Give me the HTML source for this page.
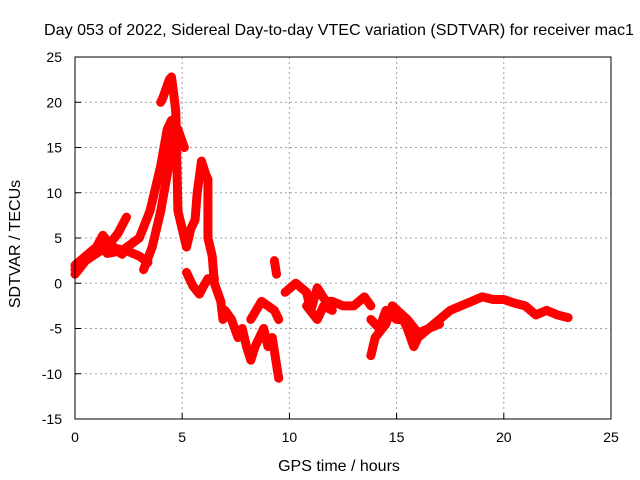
<!DOCTYPE html>
<html><head><meta charset="utf-8"><style>
body{margin:0;background:#fff;}
svg{display:block;font-family:"Liberation Sans",sans-serif;}
</style></head><body>
<svg id="chart" width="640" height="480" viewBox="0 0 640 480">
<rect width="640" height="480" fill="#fff"/>
<text x="339" y="35" font-size="16" text-anchor="middle" textLength="590" lengthAdjust="spacingAndGlyphs">Day 053 of 2022, Sidereal Day-to-day VTEC variation (SDTVAR) for receiver mac1</text>
<text x="339" y="471" font-size="16" text-anchor="middle">GPS time / hours</text>
<text transform="translate(20,244) rotate(-90)" font-size="16" text-anchor="middle">SDTVAR / TECUs</text>
<g id="grid"></g><g id="marks"></g><g id="axes"></g>
</svg>
<script>
const xTicks=[0,5,10,15,20,25];
const yTicks=[-15,-10,-5,0,5,10,15,20,25];
const s1x=[0,0.5,1,1.5,2,2.4];
const s1y=[1,2.5,3.3,4,5.5,7.3];
const s2x=[0,0.5,1,1.5,2,2.5,3,3.4];
const s2y=[1.5,2.8,3.6,4.2,3.8,3.5,3,2.3];
const s3x=[0,0.5,1,1.3,1.7,2.2];
const s3y=[2,3,4,5.3,4,3.2];
const s4x=[1.5,2.2,3,3.5,4,4.3,4.5,4.8,5.1];
const s4y=[3.3,3.6,5,8,13,17,18,17,15];
const s5x=[3.2,3.6,4,4.3,4.6,4.7];
const s5y=[1.5,4,8,12,16,18];
const s6x=[4,4.1,4.4,4.5,4.6,4.7,4.8,5,5.2,5.4,5.6,5.7,5.9,6.1,6.2,6.2,6.4,6.5,6.8,6.9];
const s6y=[20,20.5,22.5,22.8,21,19,8,6,4,6,7,10,13.5,12,11.5,5,3,0,-2,-4];
const s7x=[5.2,5.5,5.8,6,6.2,6.5];
const s7y=[1.2,-0.3,-1.2,-0.3,0.5,0.5];
const s8x=[7,7.3,7.6,7.8,8,8.2,8.4,8.6,8.8,9,9.2,9.5];
const s8y=[-3,-4,-6,-5,-7,-8.5,-7,-6,-5,-7,-6,-10.5];
const s9x=[8.2,8.7,9.3,9.5];
const s9y=[-4,-2,-3,-4];
const s10x=[9.3,9.4];
const s10y=[2.5,1];
const s11x=[9.8,10.3,10.8,11,11.3,11.7,12,12.5,13,13.5,13.8];
const s11y=[-1,0,-1,-3,-0.5,-2,-2,-2.5,-2.5,-1.5,-2.5];
const s12x=[10.8,11.3,11.6,12];
const s12y=[-2.5,-4,-2.5,-3];
const s13x=[13.8,14.2,14.5,15,15.3,15.5,15.8,16,16.5,17,17.5,18,18.5,19,19.5,20,20.5,21,21.5,22,22.5,23];
const s13y=[-4,-5,-3,-4,-4,-5,-7,-6,-5,-4,-3,-2.5,-2,-1.5,-1.8,-1.8,-2.2,-2.5,-3.5,-3,-3.5,-3.8];
const s14x=[13.8,14,14.5,14.8,15.5,16,16.5,17];
const s14y=[-8,-6,-4.5,-2.5,-4,-5.5,-5,-4.5];
const series=[[s1x,s1y],[s2x,s2y],[s3x,s3y],[s4x,s4y],[s5x,s5y],[s6x,s6y],[s7x,s7y],[s8x,s8y],[s9x,s9y],[s10x,s10y],[s11x,s11y],[s12x,s12y],[s13x,s13y],[s14x,s14y]];
const X0=75,X1=611,Y0=57,Y1=419;
const sx=h=>X0+(h-0)/(25-0)*(X1-X0);
const sy=v=>Y1-(v+15)/(25+15)*(Y1-Y0);
const NS="http://www.w3.org/2000/svg";
const grid=document.getElementById('grid'),marks=document.getElementById('marks'),axes=document.getElementById('axes');
function mk(tag,attrs,parent){const e=document.createElementNS(NS,tag);for(const k in attrs)e.setAttribute(k,attrs[k]);parent.appendChild(e);return e;}
xTicks.forEach(t=>{
 if(t>0&&t<25){const g=mk('line',{x1:sx(t),x2:sx(t),y1:Y0,y2:Y1,stroke:'#a0a0a0','stroke-dasharray':'2,3'},grid);
 
 }
 const tk=mk('line',{x1:sx(t),x2:sx(t),y1:Y1,y2:Y1-6,stroke:'#000'},axes);
 
 
 const tx=mk('text',{x:sx(t),y:Y1+23,'font-size':14,'text-anchor':'middle'},axes);tx.textContent=t;
 
 
});
yTicks.forEach(t=>{
 if(t>-15&&t<25){const g=mk('line',{x1:X0,x2:X1,y1:sy(t),y2:sy(t),stroke:'#a0a0a0','stroke-dasharray':'2,3'},grid);
 
 }
 const tk=mk('line',{x1:X0,x2:X0+6,y1:sy(t),y2:sy(t),stroke:'#000'},axes);
 
 
 const tx=mk('text',{x:X0-13,y:sy(t)+5,'font-size':14,'text-anchor':'end'},axes);tx.textContent=t;
 
 
});
const box=mk('rect',{x:X0,y:Y0,width:X1-X0,height:Y1-Y0,fill:'none',stroke:'#000'},axes);


series.forEach((s,i)=>{
 const [xs,ys]=s;
 const pts=xs.map((x,j)=>sx(x)+','+sy(ys[j])).join(' ');
 const pl=mk('polyline',{points:pts,fill:'none',stroke:'#ff0000','stroke-width':9,'stroke-linejoin':'round','stroke-linecap':'round'},marks);
 
 
 xs.forEach((x,j)=>{
  const px=sx(x),py=sy(ys[j]);
  const p=mk('path',{d:`M${px-4},${py}H${px+4}M${px},${py-4}V${py+4}`,stroke:'#ff0000','stroke-width':1.3,fill:'none'},marks);
  
  
 });
});
</script>
</body></html>
